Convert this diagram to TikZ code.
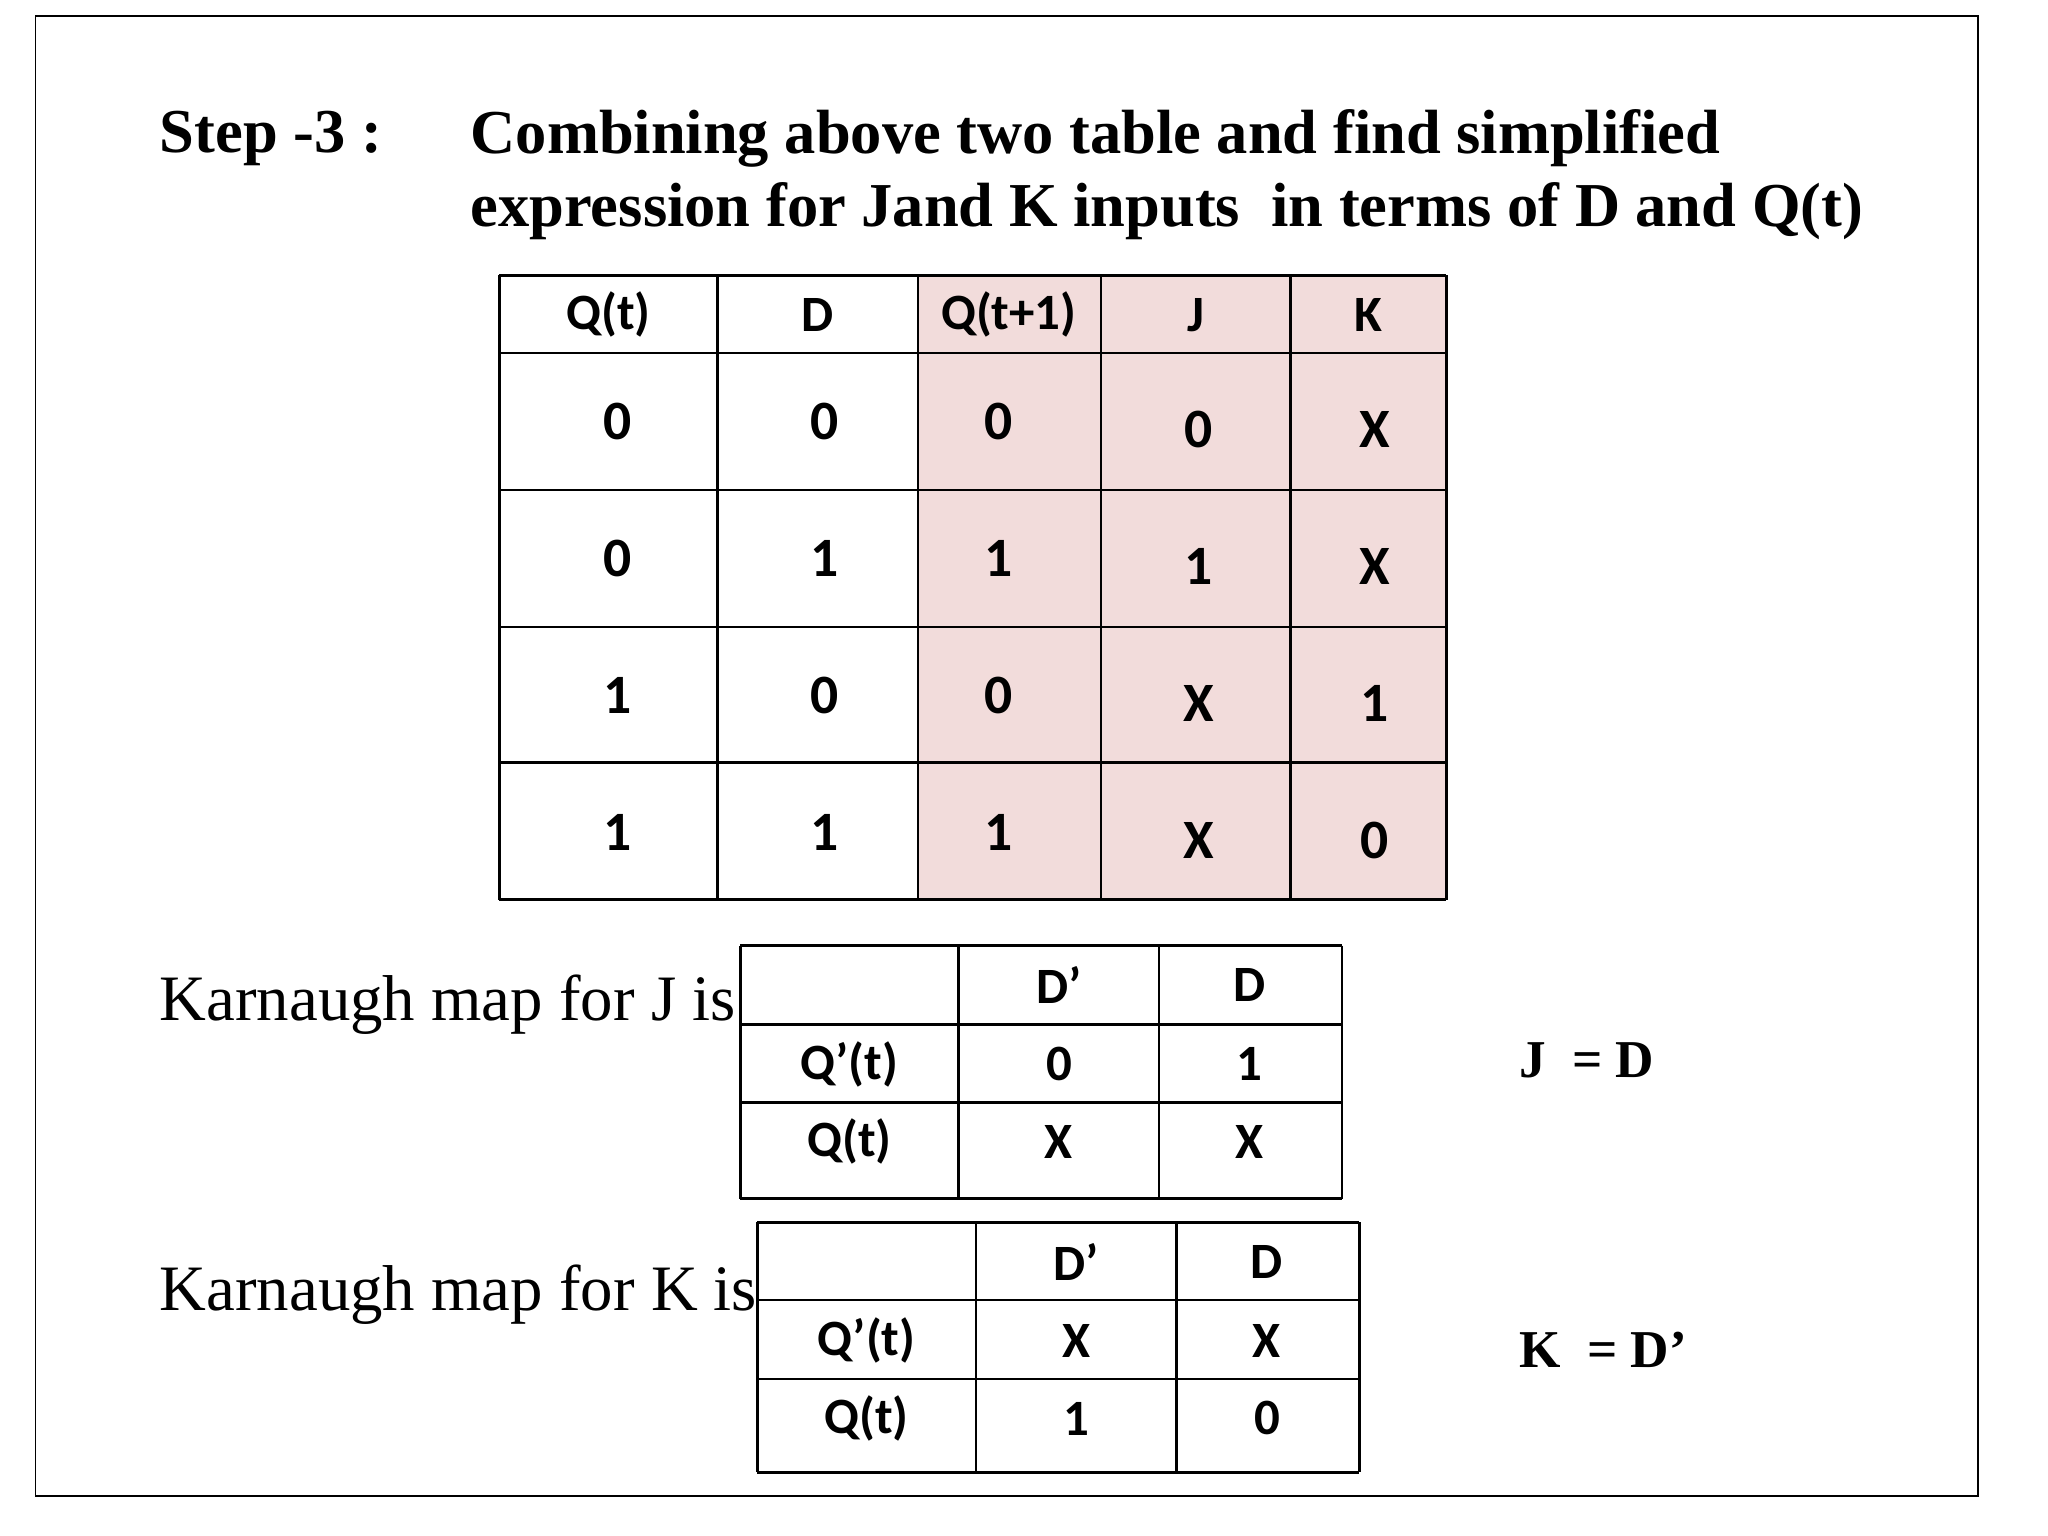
\documentclass[tikz,border=0pt]{standalone}
\usepackage{fontspec}
\setmainfont{Liberation Serif}
\newfontfamily\carlitofont{Carlito}
\definecolor{pinkc}{RGB}{242,220,219}
\begin{document}
\begin{tikzpicture}[x=0.02cm,y=-0.02cm,
  cell/.style={font=\carlitofont\bfseries\fontsize{24}{28}\selectfont,inner sep=0},
  hcell/.style={font=\carlitofont\bfseries\fontsize{22}{26}\selectfont,inner sep=0},
  head/.style={font=\bfseries\fontsize{27}{32}\selectfont,inner sep=0,anchor=west},
  body/.style={font=\fontsize{28}{32}\selectfont,inner sep=0,anchor=west},
  eq/.style={font=\bfseries\fontsize{23}{28}\selectfont,inner sep=0,anchor=west},
  grid/.style={line width=1.2pt}]
\useasboundingbox (0,0) rectangle (1555,1166);
\draw[line width=0.8pt] (27,12) rectangle (1502,1136);
\node[head] (s) at (121,105) {Step -3 :};
\node[head] (h1) at (357,105) {Combining above two table and find simplified};
\node[head] (h2) at (357,160) {expression for Jand K inputs\ \ in terms of D and Q(t)};
% main table
\fill[pinkc] (697,209) rectangle (1098,683);
\foreach \x in {379,545,697,836,980,1098} \draw[grid] (\x,209) -- (\x,683);
\foreach \y in {209,268,372,476,579,683} \draw[grid] (379,\y) -- (1098,\y);
\def\cx{{462,621,766,908,1039}}
\foreach \t [count=\i from 0] in {Q(t),D,Q(t+1),J,K}
  \node[hcell] (th\i) at ({\cx[\i]},239) {\t};
\foreach \a/\b/\c/\d/\e [count=\r from 0] in {0/0/0/0/X,0/1/1/1/X,1/0/0/X/1,1/1/1/X/0}{
  \pgfmathsetmacro\yy{320+104*\r}
  \node[cell] (r\r a) at (469,\yy) {\a};
  \node[cell] (r\r b) at (626,\yy) {\b};
  \node[cell] (r\r c) at (758,\yy) {\c};
  \node[cell] (r\r d) at (910,\yy+6) {\d};
  \node[cell] (r\r e) at (1044,\yy+6) {\e};
}
% K-map J
\node[body] (kj) at (121,763) {Karnaugh map for J is};
\foreach \x in {562,728,880,1019} \draw[grid] (\x,718) -- (\x,910);
\foreach \y in {718,778,837,910} \draw[grid] (562,\y) -- (1019,\y);
\node[hcell] (j1) at (804,748) {D’};
\node[hcell] (j2) at (949,748) {D};
\node[hcell] (j3) at (645,808) {Q’(t)};
\node[hcell] (j4) at (804,808) {0};
\node[hcell] (j5) at (949,808) {1};
\node[hcell] (j6) at (645,867) {Q(t)};
\node[hcell] (j7) at (804,867) {X};
\node[hcell] (j8) at (949,867) {X};
\node[eq] (je) at (1153,805) {J\ \ = D};
% K-map K
\node[body] (kk) at (121,983) {Karnaugh map for K is};
\foreach \x in {575,741,893,1032} \draw[grid] (\x,928) -- (\x,1118);
\foreach \y in {928,987,1047,1118} \draw[grid] (575,\y) -- (1032,\y);
\node[hcell] (k1) at (817,958) {D’};
\node[hcell] (k2) at (962,958) {D};
\node[hcell] (k3) at (658,1018) {Q’(t)};
\node[hcell] (k4) at (817,1018) {X};
\node[hcell] (k5) at (962,1018) {X};
\node[hcell] (k6) at (658,1077) {Q(t)};
\node[hcell] (k7) at (817,1077) {1};
\node[hcell] (k8) at (962,1077) {0};
\node[eq] (ke) at (1153,1025) {K\ \ = D’};
\end{tikzpicture}
\end{document}
